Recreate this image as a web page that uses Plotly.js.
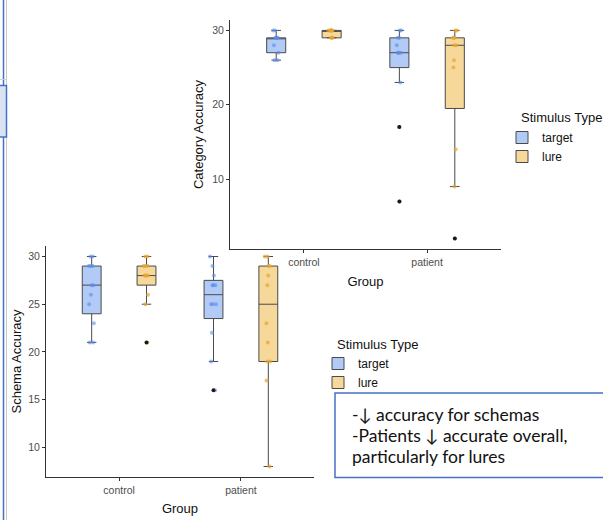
<!DOCTYPE html>
<html>
<head>
<meta charset="utf-8">
<script src="https://cdn.plot.ly/plotly-3.0.1.min.js"></script>
<style>html,body{margin:0;padding:0;background:#fff;}#chart{width:603px;height:520px;}</style>
</head>
<body>
<div id="chart"></div>
<script>
// ---- data ----
const groups = ['control', 'patient'];
const seriesNames = ['target', 'lure'];
const legendTitle = 'Stimulus Type';
// Upper chart: Category Accuracy
const catTargetControl = [26, 26, 27, 28, 29, 29, 29, 29, 30, 30];
const catTargetPatient = [7, 17, 23, 27, 27, 27, 27, 28, 29, 29, 30, 30];
const catLureControl   = [29, 29, 29, 30, 30, 30, 30, 30, 30, 30];
const catLurePatient   = [2, 9, 14, 25, 26, 28, 28, 29, 29, 29, 30, 30];
// Lower chart: Schema Accuracy
const schTargetControl = [21, 21, 23, 25, 26, 27, 27, 29, 29, 29, 30, 30];
const schTargetPatient = [16, 19, 22, 25, 25, 25, 27, 27, 27, 28, 29, 30];
const schLureControl   = [21, 25, 26, 28, 28, 28, 28, 29, 29, 29, 30, 30];
const schLurePatient   = [8, 17, 19, 19, 21, 23, 27, 28, 29, 29, 30, 30];
const noteLines = ['-\u2193 accuracy for schemas', '-Patients \u2193 accurate overall,', 'particularly for lures'];

// ---- styling ----
const W = 603, H = 520;
const FONT = 'Liberation Sans, Arial, sans-serif';
const boxFill = ['#b1caf6', '#f6d89a'];
const ptColor = ['rgba(90,140,235,0.6)', 'rgba(232,165,45,0.7)'];
const px = v => v / W;
const py = v => (H - v) / H;

function xs(a, b) { return a.map(() => groups[0]).concat(b.map(() => groups[1])); }

function makeTraces(dataPairs, xa, ya, legendId) {
  const out = [];
  dataPairs.forEach((pair, i) => {
    const x = xs(pair[0], pair[1]);
    const y = pair[0].concat(pair[1]);
    out.push({
      type: 'box', x: x, y: y, xaxis: xa, yaxis: ya, name: seriesNames[i],
      offsetgroup: seriesNames[i], legend: legendId,
      fillcolor: boxFill[i], line: {color: '#4a4a4a', width: 1},
      boxpoints: 'all', jitter: 0.45, pointpos: 0,
      marker: {color: ptColor[i], size: 4}, hoverinfo: 'y'
    });
    out.push({
      type: 'box', x: x, y: y, xaxis: xa, yaxis: ya, name: seriesNames[i],
      offsetgroup: seriesNames[i], legend: legendId, showlegend: false,
      fillcolor: 'rgba(0,0,0,0)', line: {color: 'rgba(0,0,0,0)', width: 0},
      boxpoints: 'outliers', jitter: 0, pointpos: 0,
      marker: {color: '#1a1a1a', size: 4}, hoverinfo: 'y'
    });
  });
  return out;
}

const traces = []
  .concat(makeTraces([[catTargetControl, catTargetPatient], [catLureControl, catLurePatient]], 'x', 'y', 'legend'))
  .concat(makeTraces([[schTargetControl, schTargetPatient], [schLureControl, schLurePatient]], 'x2', 'y2', 'legend2'));

const axisCommon = {
  showline: true, linecolor: '#333', linewidth: 1, mirror: false,
  ticks: 'outside', ticklen: 3, tickcolor: '#333', tickwidth: 1,
  tickfont: {family: FONT, size: 10.5, color: '#4d4d4d'},
  showgrid: false, zeroline: false, fixedrange: true
};
const titleFont = {family: FONT, size: 13, color: '#111'};
const legendCommon = {
  xanchor: 'left', yanchor: 'top', tracegroupgap: 0,
  font: {family: FONT, size: 12, color: '#111'}, bgcolor: 'rgba(0,0,0,0)', itemwidth: 30
};

const layout = {
  width: W, height: H,
  margin: {l: 0, r: 0, t: 0, b: 0},
  paper_bgcolor: '#fff', plot_bgcolor: 'rgba(0,0,0,0)',
  font: {family: FONT, color: '#111'},
  boxmode: 'group', boxgap: 0.1, boxgroupgap: 0.656,
  xaxis: Object.assign({}, axisCommon, {
    domain: [px(230), px(501)], anchor: 'y', type: 'category', range: [-0.6, 1.6],
    title: {text: 'Group', font: titleFont, standoff: 10}
  }),
  yaxis: Object.assign({}, axisCommon, {
    domain: [py(249), py(20)], anchor: 'x', range: [0.6, 31.4], tickvals: [10, 20, 30],
    title: {text: 'Category Accuracy', font: titleFont, standoff: 5}
  }),
  xaxis2: Object.assign({}, axisCommon, {
    domain: [px(46), px(314)], anchor: 'y2', type: 'category', range: [-0.6, 1.6],
    title: {text: 'Group', font: titleFont, standoff: 9}
  }),
  yaxis2: Object.assign({}, axisCommon, {
    domain: [py(477), py(246)], anchor: 'x2', range: [6.9, 31.1], tickvals: [10, 15, 20, 25, 30],
    title: {text: 'Schema Accuracy', font: titleFont, standoff: 3}
  }),
  legend: Object.assign({}, legendCommon, {x: px(502), y: py(123)}),
  legend2: Object.assign({}, legendCommon, {x: px(318), y: py(349)}),
  shapes: [
    {type: 'line', xref: 'paper', yref: 'paper', x0: px(3.5), x1: px(3.5), y0: 0, y1: 1, line: {color: '#4472C4', width: 1.5}},
    {type: 'line', xref: 'paper', yref: 'paper', x0: px(6.5), x1: px(6.5), y0: 0, y1: 1, line: {color: '#c9c9c9', width: 1}},
    {type: 'line', xref: 'paper', yref: 'paper', x0: 0, x1: px(7), y0: py(79.5), y1: py(79.5), line: {color: '#d0d0d0', width: 1}},
    {type: 'rect', xref: 'paper', yref: 'paper', x0: px(-2), x1: px(6.5), y0: py(137), y1: py(85.5), fillcolor: '#dae3f3', line: {color: '#4472C4', width: 1.5}},
    {type: 'rect', xref: 'paper', yref: 'paper', x0: px(335), x1: px(610), y0: py(477.5), y1: py(393), fillcolor: '#ffffff', line: {color: '#4472C4', width: 1.5}, layer: 'above'}
  ],
  annotations: [
    {xref: 'paper', yref: 'paper', x: px(519), y: py(118), xanchor: 'left', yanchor: 'middle', showarrow: false,
     text: legendTitle, font: titleFont},
    {xref: 'paper', yref: 'paper', x: px(335), y: py(344), xanchor: 'left', yanchor: 'middle', showarrow: false,
     text: legendTitle, font: titleFont}
  ].concat(noteLines.map((t, i) => ({
    xref: 'paper', yref: 'paper', x: px(350), y: py(414 + i * 21.3), xanchor: 'left', yanchor: 'middle',
    showarrow: false, text: t, font: {family: 'Lato, Open Sans, sans-serif', size: 17.5, color: '#111'}
  })))
};

Plotly.newPlot('chart', traces, layout, {staticPlot: true, displayModeBar: false});
</script>
</body>
</html>
